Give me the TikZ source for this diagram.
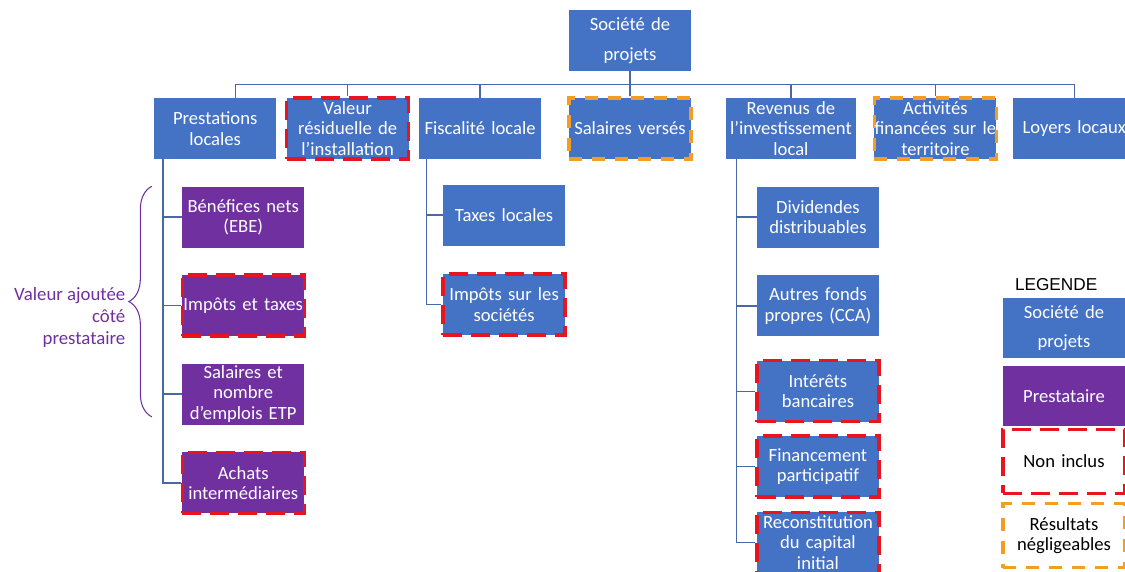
\documentclass[tikz,border=0pt]{standalone}
\usepackage{fontspec}
\setmainfont{Carlito}
\newfontfamily\legfont{Liberation Sans}
\usetikzlibrary{positioning,decorations.pathreplacing}
\definecolor{boxblue}{RGB}{68,114,196}
\definecolor{boxpurple}{RGB}{112,48,160}
\definecolor{linkblue}{RGB}{72,104,168}
\definecolor{dashred}{RGB}{232,20,30}
\definecolor{dashorange}{RGB}{242,158,36}

\begin{document}
\begin{tikzpicture}
	\tikzstyle{block} = [rectangle, fill=boxblue, text=white, minimum height=1.22cm, text width=2.44cm, inner xsep=0pt, inner ysep=0pt, align=center, font=\fontsize{10.6}{11.7}\selectfont]
	\tikzstyle{presta} = [block, fill=boxpurple]
	\tikzstyle{noninclus} = [draw=dashred, line width=1.8pt, dash pattern=on 0.38cm off 0.18cm]
	\tikzstyle{neglig} = [draw=dashorange, line width=1.8pt, dash pattern=on 0.26cm off 0.2cm]
	\tikzstyle{link} = [draw=linkblue, line width=0.8pt]
	
	\useasboundingbox (0,0) rectangle (22.5,-11.44);
	\clip (0,0) rectangle (22.5,-11.44);
	
	\node [block] (soc) at (12.6,-0.81) {Société de\\[5pt]projets};
	
	\node [block, neglig, below=0.5cm of soc] (salv) {Salaires versés};
	\node [block, left=0.52cm of salv] (fisc) {Fiscalité locale};
	\node [block, noninclus, left=0.17cm of fisc] (valres) {Valeur\\résiduelle de\\l’installation};
	\node [block, left=0.17cm of valres] (prest) {Prestations\\locales};
	\node [block, text width=2.6cm, right=0.66cm of salv] (revinv) {Revenus de\\l’investissement\\local};
	\node [block, neglig, right=0.33cm of revinv] (activ) {Activités\\financées sur le\\territoire};
	\node [block, right=0.3cm of activ] (loyers) {Loyers locaux};
	
	\node [presta, below right=0.54cm and 0.56cm of prest.south west] (benef) {Bénéfices nets\\(EBE)};
	\node [presta, noninclus, below=0.51cm of benef] (impot) {Impôts et taxes};
	\node [presta, below=0.51cm of impot] (salemp) {Salaires et\\nombre\\d’emplois ETP};
	\node [presta, noninclus, below=0.52cm of salemp] (achats) {Achats\\intermédiaires};
	
	\node [block, below right=0.5cm and 0.48cm of fisc.south west] (taxloc) {Taxes locales};
	\node [block, noninclus, below=0.53cm of taxloc] (impsoc) {Impôts sur les\\sociétés};
	
	\node [block, below right=0.54cm and 0.62cm of revinv.south west] (divid) {Dividendes\\distribuables};
	\node [block, below=0.54cm of divid] (fonds) {Autres fonds\\propres (CCA)};
	\node [block, noninclus, below=0.45cm of fonds] (inter) {Intérêts\\bancaires};
	\node [block, noninclus, below=0.22cm of inter] (finpart) {Financement\\participatif};
	\node [block, noninclus, below=0.24cm of finpart] (recons) {Reconstitution\\du capital\\initial};
	
	% legende
	\node [block, minimum height=1.2cm] (lsoc) at (21.28,-6.56) {Société de\\[5pt]projets};
	\node [presta, minimum height=1.2cm, below=0.14cm of lsoc] (lpres) {Prestataire};
	\node [block, noninclus, fill=white, text=black, minimum height=1.28cm, below=0.03cm of lpres] (lnon) {Non inclus};
	\node [block, neglig, fill=white, text=black, minimum height=1.28cm, below=0.15cm of lnon] (lneg) {Résultats\\négligeables};
	\node [above right=0.13cm and 0.24cm of lsoc.north west, inner sep=0pt, font=\legfont\fontsize{9.8}{11}\selectfont] (legtitle) {LEGENDE};
	
	\node [coordinate, below=0.26cm of soc] (bus) {};
	\node [coordinate, right=0.4cm of prest.north] (tprest) {};
	\node [coordinate, right=0.18cm of prest.south west] (vprest) {};
	\node [coordinate, right=0.16cm of fisc.south west] (vfisc) {};
	\node [coordinate, right=0.22cm of revinv.south west] (vrev) {};
	
	\node [coordinate, left=0.6cm of benef.north west] (brtop) {};
	\node [coordinate, above left=0.16cm and 0.6cm of salemp.south west] (brbot) {};
	
	\draw [link] (soc) -- (bus);
	\draw [link] (tprest |- bus) -- (loyers.north |- bus);
	\draw [link] (tprest |- bus) -- (tprest);
	\draw [link] (valres.north |- bus) -- (valres.north);
	\draw [link] (fisc.north |- bus) -- (fisc.north);
	\draw [link] (bus) -- (salv.north);
	\draw [link] (revinv.north |- bus) -- (revinv.north);
	\draw [link] (activ.north |- bus) -- (activ.north);
	\draw [link] (loyers.north |- bus) -- (loyers.north);
	
	\draw [link] (vprest) |- (benef.west);
	\draw [link] (vprest) |- (impot.west);
	\draw [link] (vprest) |- (salemp.west);
	\draw [link] (vprest) |- (achats.west);
	
	\draw [link] (vfisc) |- (taxloc.west);
	\draw [link] (vfisc) |- (impsoc.west);
	
	\draw [link] (vrev) |- (divid.west);
	\draw [link] (vrev) |- (fonds.west);
	\draw [link] (vrev) |- (inter.west);
	\draw [link] (vrev) |- (finpart.west);
	\draw [link] (vrev) |- (recons.west);
	
	\draw [boxpurple, line width=0.6pt, decorate, decoration={brace, amplitude=0.46cm}] (brbot) -- node[anchor=north east, xshift=-0.52cm, yshift=0.3cm, inner sep=0pt, align=right, text=boxpurple, font=\fontsize{10.7}{12.6}\selectfont]{Valeur ajoutée\\côté\\prestataire} (brtop);
	
\end{tikzpicture}
\end{document}
